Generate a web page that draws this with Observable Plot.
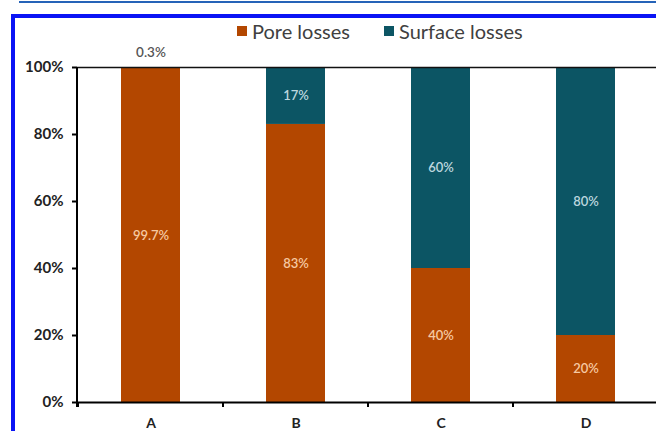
<!DOCTYPE html>
<html>
<head>
<meta charset="utf-8">
<script src="https://cdn.jsdelivr.net/npm/d3@7"></script>
<script src="https://cdn.jsdelivr.net/npm/@observablehq/plot@0.6"></script>
<style>
  html, body { margin: 0; padding: 0; background: #fff; }
  #wrap { position: relative; width: 656px; height: 431px; overflow: hidden; font-family: Lato, "Open Sans", sans-serif; }
  #legend { position: relative; height: 45px; }
  .item { position: absolute; top: 18px; display: flex; align-items: center; font-size: 20px; color: #404040; line-height: 26px; }
  .sw { width: 10px; height: 10px; margin-right: 5px; }
  #topline { position: absolute; left: 19px; right: 0; top: 1px; height: 2px; background: #2563b8; }
  #boxtop { position: absolute; left: 11px; right: 0; top: 14px; height: 4px; background: #0a14f5; }
  #boxleft { position: absolute; left: 11px; top: 14px; bottom: 0; width: 4px; background: #0a14f5; }
  svg { overflow: visible; }
</style>
</head>
<body>
<div id="wrap">
  <div id="legend"></div>
  <div id="chart"></div>
  <div id="topline"></div>
  <div id="boxtop"></div>
  <div id="boxleft"></div>
</div>
<script>
const categories = ["A", "B", "C", "D"];
const series = ["Pore losses", "Surface losses"];
const poreLosses = [99.7, 83, 40, 20];
const surfaceLosses = [0.3, 17, 60, 80];
const labelText = {
  "Pore losses": ["99.7%", "83%", "40%", "20%"],
  "Surface losses": ["0.3%", "17%", "60%", "80%"]
};
const yTicks = [0, 20, 40, 60, 80, 100];
const colors = ["#b34700", "#0c5564"];
const labelColors = ["#f6c9a2", "#bcd7df"];

const rows = [];
categories.forEach((c, i) => {
  rows.push({cat: c, series: series[0], value: poreLosses[i], label: labelText[series[0]][i]});
  rows.push({cat: c, series: series[1], value: surfaceLosses[i], label: labelText[series[1]][i]});
});
const inside = rows.filter(d => d.value >= 1);
const outside = rows.filter(d => d.value < 1);

// legend
const legend = document.getElementById("legend");
const legendLeft = [237, 384];
series.forEach((s, i) => {
  const it = document.createElement("div");
  it.className = "item";
  it.style.left = legendLeft[i] + "px";
  const sw = document.createElement("span");
  sw.className = "sw";
  sw.style.background = colors[i];
  const tx = document.createElement("span");
  tx.textContent = s;
  it.appendChild(sw);
  it.appendChild(tx);
  legend.appendChild(it);
});

function axisDecor(index, scales, values, dimensions) {
  const x = scales.x, y = scales.y;
  const g = d3.create("svg:g").attr("stroke", "#000").attr("fill", "none");
  const ml = dimensions.marginLeft;
  const bw = x.bandwidth ? x.bandwidth() : 0;
  const step = x.step ? x.step() : (dimensions.width - ml - dimensions.marginRight) / categories.length;
  const y0 = y(0), y1 = y(100);
  g.append("line").attr("x1", ml).attr("x2", ml).attr("y1", y1).attr("y2", y0 + 5).attr("stroke-width", 2);
  const bounds = categories.map(c => x(c) - (step - bw) / 2);
  bounds.push(bounds[bounds.length - 1] + step);
  bounds.forEach(b => {
    g.append("line").attr("x1", b).attr("x2", b).attr("y1", y0).attr("y2", y0 + 5).attr("stroke-width", 2);
  });
  return g.node();
}

const plot = Plot.plot({
  width: 656,
  height: 386,
  marginTop: 22,
  marginBottom: 29,
  marginLeft: 77,
  marginRight: -2,
  style: {fontFamily: "Lato, 'Open Sans', sans-serif", background: "transparent", overflow: "visible"},
  x: {domain: categories, paddingInner: 0.595, paddingOuter: 0.2975, label: null},
  y: {domain: [0, 100], label: null},
  color: {domain: series, range: colors},
  marks: [
    Plot.barY(rows, Plot.stackY({x: "cat", y: "value", fill: "series", z: "series", order: series})),
    Plot.text(inside, Plot.stackY({x: "cat", y: "value", z: "series", order: series, text: "label",
      fill: d => labelColors[series.indexOf(d.series)], fontSize: 13, fontWeight: 600})),
    Plot.text(outside, {x: "cat", y: () => 100, text: "label", dy: -15, fill: "#555", fontSize: 13.5, fontWeight: 600}),
    Plot.ruleY([100], {stroke: "#111", strokeWidth: 1.5}),
    Plot.ruleY([0], {stroke: "#000", strokeWidth: 2}),
    Plot.axisY({ticks: yTicks, tickFormat: d => d + "%", tickSize: 5, tickPadding: 9, fontSize: 15, fontWeight: "bold", stroke: "#000", strokeWidth: 2, fill: "#222"}),
    Plot.axisX({tickSize: 0, tickPadding: 16, fontSize: 14, fontWeight: "bold", fill: "#222"}),
    axisDecor
  ]
});
document.getElementById("chart").appendChild(plot);
</script>
</body>
</html>
